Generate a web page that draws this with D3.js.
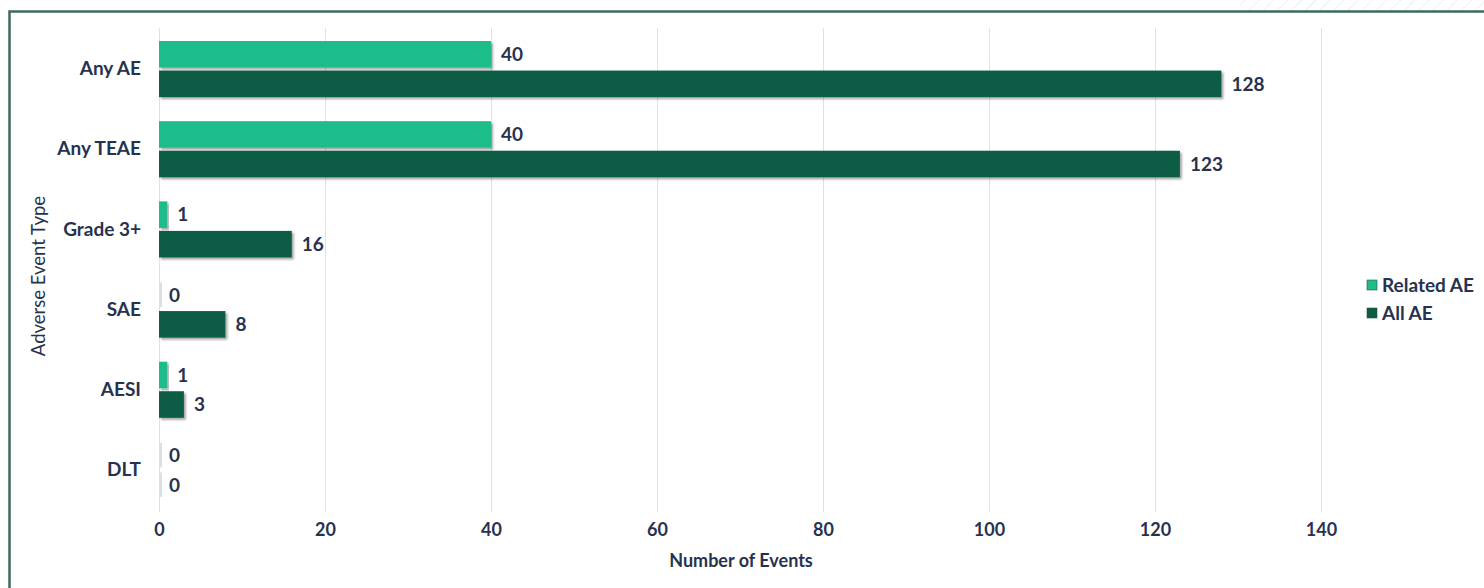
<!DOCTYPE html>
<html>
<head>
<meta charset="utf-8">
<script src="https://cdn.jsdelivr.net/npm/d3@7/dist/d3.min.js"></script>
<style>
  html, body { margin: 0; padding: 0; background: #ffffff; }
  svg { display: block; }
  text { font-family: Lato, "Open Sans", sans-serif; }
</style>
</head>
<body>
<svg id="chart" width="1484" height="588"></svg>
<script>
const categories = ["Any AE", "Any TEAE", "Grade 3+", "SAE", "AESI", "DLT"];
const seriesNames = ["Related AE", "All AE"];
const relatedAE = [40, 40, 1, 0, 1, 0];
const allAE = [128, 123, 16, 8, 3, 0];
const xTicks = [0, 20, 40, 60, 80, 100, 120, 140];
const colors = ["#1dbd8b", "#0b5c44"];
const textColor = "#27324f";

const svg = d3.select("#chart");

// defs: shadow + hatch
const defs = svg.append("defs");
const f = defs.append("filter").attr("id", "shadow")
  .attr("x", "-5%").attr("y", "-30%").attr("width", "115%").attr("height", "180%");
f.append("feDropShadow").attr("dx", 2).attr("dy", 2).attr("stdDeviation", 1.2)
  .attr("flood-color", "#000").attr("flood-opacity", 0.35);
const pat = defs.append("pattern").attr("id", "hatch").attr("patternUnits", "userSpaceOnUse")
  .attr("width", 10).attr("height", 10).attr("patternTransform", "rotate(45)");
pat.append("line").attr("x1", 0).attr("y1", 0).attr("x2", 0).attr("y2", 10)
  .attr("stroke", "#e6eaee").attr("stroke-width", 1.5);

svg.append("rect").attr("x", 1240).attr("y", 0).attr("width", 244).attr("height", 11)
  .attr("fill", "url(#hatch)");

// frame
svg.append("path")
  .attr("d", `M9.5,600 L9.5,11.5 L1500,11.5`)
  .attr("fill", "none").attr("stroke", "#3d6b5c").attr("stroke-width", 2.5);

const x = d3.scaleLinear().domain([0, 160]).range([159, 159 + 160 * 8.3]);
const y = d3.scaleBand().domain(categories).range([29, 510]).paddingInner(0.3).paddingOuter(0.15);

// gridlines
svg.append("g").selectAll("line").data(xTicks).join("line")
  .attr("x1", d => x(d) + 0.5).attr("x2", d => x(d) + 0.5)
  .attr("y1", 28).attr("y2", 512)
  .attr("stroke", "#dde2e8").attr("stroke-width", 1);

// x axis labels
const xAxis = d3.axisBottom(x).tickValues(xTicks).tickSize(0).tickPadding(0);
const gx = svg.append("g").attr("transform", "translate(0,523)").call(xAxis);
gx.select(".domain").remove();
gx.selectAll("text").attr("font-size", 18).attr("font-weight", 700)
  .attr("fill", textColor).attr("dy", "0.71em")
  .style("font-family", "Lato, sans-serif");

// y axis labels
const yAxis = d3.axisLeft(y).tickSize(0).tickPadding(0);
const gy = svg.append("g").attr("transform", "translate(141,0)").call(yAxis);
gy.select(".domain").remove();
gy.selectAll("text").attr("font-size", 19).attr("font-weight", 700)
  .attr("fill", textColor).style("font-family", "Lato, sans-serif");

// bars
const inner = d3.scaleBand().domain(seriesNames).range([0, y.bandwidth()]).paddingInner(0.1);
const data = categories.map((c, i) => ({ c, vals: [relatedAE[i], allAE[i]] }));

const groups = svg.append("g").selectAll("g").data(data).join("g")
  .attr("transform", d => `translate(0,${y(d.c)})`);

groups.each(function(d) {
  const g = d3.select(this);
  d.vals.forEach((v, si) => {
    const yy = inner(seriesNames[si]);
    const bh = inner.bandwidth();
    if (v > 0) {
      g.append("rect").attr("x", x(0)).attr("y", yy)
        .attr("width", x(v) - x(0)).attr("height", bh)
        .attr("fill", colors[si]).attr("filter", "url(#shadow)");
    } else {
      g.append("rect").attr("x", x(0)).attr("y", yy + 1)
        .attr("width", 3).attr("height", bh - 2)
        .attr("fill", "#dcdfe3");
    }
    g.append("text").attr("x", x(v) + 10).attr("y", yy + bh / 2)
      .attr("dy", "0.36em").attr("font-size", 19).attr("font-weight", 700)
      .attr("fill", textColor).text(v);
  });
});

// axis titles
svg.append("text").attr("x", 741).attr("y", 567).attr("text-anchor", "middle")
  .attr("font-size", 18).attr("font-weight", 700).attr("fill", textColor)
  .text("Number of Events");
svg.append("text").attr("transform", "translate(45,276) rotate(-90)")
  .attr("text-anchor", "middle").attr("font-size", 18.5).attr("font-weight", 400)
  .attr("fill", textColor).text("Adverse Event Type");

// legend
const leg = svg.append("g").attr("transform", "translate(1367,285)");
seriesNames.forEach((s, i) => {
  const lg = leg.append("g").attr("transform", `translate(0,${i * 28})`);
  lg.append("rect").attr("x", 0).attr("y", -5).attr("width", 10).attr("height", 10)
    .attr("fill", colors[i]).attr("stroke", "#2f4f45").attr("stroke-width", 0.6);
  lg.append("text").attr("x", 15).attr("y", 0).attr("dy", "0.36em")
    .attr("font-size", 19).attr("font-weight", 700).attr("fill", textColor).text(s);
});
</script>
</body>
</html>
